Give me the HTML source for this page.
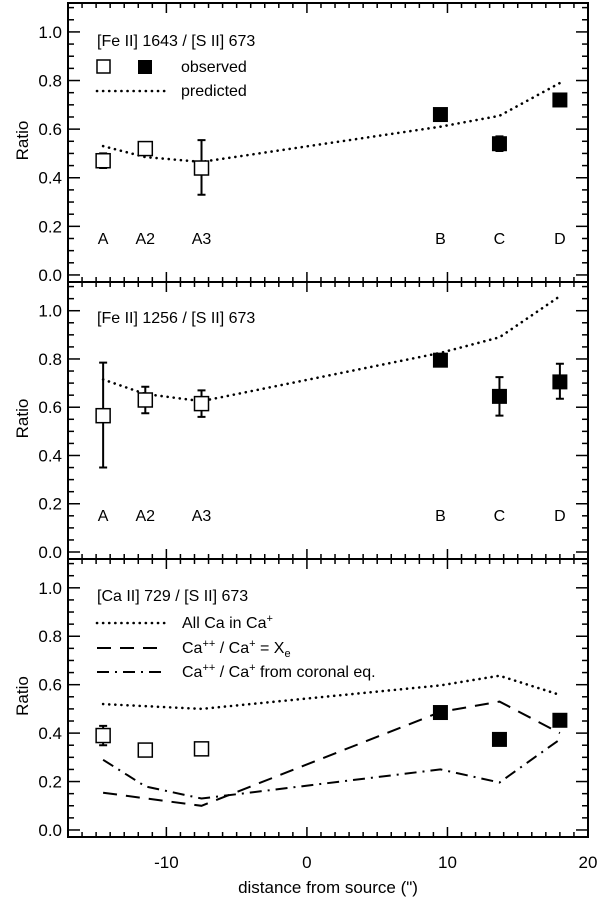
<!DOCTYPE html>
<html><head><meta charset="utf-8"><style>
html,body{margin:0;padding:0;background:#fff;}
svg{display:block;font-family:"Liberation Sans",Arial,sans-serif;}
</style></head><body>
<svg id="chart" width="600" height="903" viewBox="0 0 600 903" xmlns="http://www.w3.org/2000/svg"></svg>
<script>
// ---- data ----
const regions = ["A","A2","A3","B","C","D"];
const positions = [-14.5,-11.5,-7.5,9.5,13.7,18.0];
const observedFlag = [false,false,false,true,true,true];
const feii1643 = [0.47,0.52,0.44,0.66,0.54,0.72];
const feii1643Lo = [0.44,0.52,0.33,0.66,0.51,0.70];
const feii1643Hi = [0.50,0.52,0.555,0.66,0.57,0.745];
const feii1643Pred = [0.53,0.485,0.465,0.61,0.655,0.79];
const feii1256 = [0.565,0.63,0.615,0.795,0.645,0.705];
const feii1256Lo = [0.35,0.575,0.56,0.795,0.565,0.635];
const feii1256Hi = [0.785,0.685,0.67,0.795,0.725,0.78];
const feii1256Pred = [0.715,0.655,0.625,0.825,0.89,1.06];
const caii729 = [0.39,0.33,0.335,0.485,0.374,0.453];
const caii729Lo = [0.35,0.33,0.335,0.485,0.374,0.453];
const caii729Hi = [0.43,0.33,0.335,0.485,0.374,0.453];
const caAllX = [-14.5,-7.5,9.5,13.7,18.0];
const caAll = [0.52,0.50,0.597,0.637,0.558];
const caXeX = [-14.5,-7.5,9.5,13.7,18.0];
const caXe = [0.154,0.10,0.487,0.53,0.40];
const caCorX = [-14.5,-11.5,-7.5,9.5,13.7,18.0];
const caCor = [0.29,0.18,0.13,0.25,0.196,0.374];
const yTicks = [0.0,0.2,0.4,0.6,0.8,1.0];
const yTickLabels = ["0.0","0.2","0.4","0.6","0.8","1.0"];
const xTicks = [-10,0,10,20];
const xTickLabels = ["-10","0","10","20"];

// ---- layout ----
const NS="http://www.w3.org/2000/svg";
const svg=document.getElementById('chart');
const L=68,R=588,XMIN=-17.0,XMAX=20;
const YMIN=-0.029,YMAX=1.119;
const panels=[{top:3,bottom:282},{top:282,bottom:559},{top:559,bottom:837}];
function sx(v){return L+(v-XMIN)/(XMAX-XMIN)*(R-L);}
function mkY(p){return v=>p.bottom-(v-YMIN)/(YMAX-YMIN)*(p.bottom-p.top);}
function el(tag,attrs,parent){const e=document.createElementNS(NS,tag);for(const k in attrs)e.setAttribute(k,attrs[k]);(parent||svg).appendChild(e);return e;}
function txt(s,x,y,size,parent,anchor){const t=el('text',{x:x,y:y,'font-size':size,fill:'#000','text-anchor':anchor||'start'},parent);t.textContent=s;return t;}
const DOT={'stroke-width':2.6,'stroke-dasharray':'0.1 6','stroke-linecap':'round'};

function drawAxes(p,idx,showX){
  const g=el('g',{});
  
  
  const y=mkY(p);
  el('rect',{x:L,y:p.top,width:R-L,height:p.bottom-p.top,fill:'none',stroke:'#000','stroke-width':2},g);
  for(let v=-17;v<=20;v++){
    const X=sx(v);const major=(v%10===0);const len=major?10:5;
    el('line',{x1:X,y1:p.bottom,x2:X,y2:p.bottom-len,stroke:'#000','stroke-width':1.5},g);
    el('line',{x1:X,y1:p.top,x2:X,y2:p.top+len,stroke:'#000','stroke-width':1.5},g);
  }
  for(let i=0;i<=22;i++){
    const v=i*0.05;const Y=y(v);const major=(i%4===0);const len=major?12:6;
    el('line',{x1:L,y1:Y,x2:L+len,y2:Y,stroke:'#000','stroke-width':1.5},g);
    el('line',{x1:R,y1:Y,x2:R-len,y2:Y,stroke:'#000','stroke-width':1.5},g);
  }
  yTicks.forEach((v,i)=>{const t=txt(yTickLabels[i],62,y(v)+6,17,g,'end');});
  const yl=txt('Ratio',0,0,17,g,'middle');
  yl.setAttribute('transform','translate(28,'+((p.top+p.bottom)/2-2)+') rotate(-90)');
  
  
  if(showX){
    xTicks.forEach((v,i)=>{const t=txt(xTickLabels[i],sx(v),868,17,g,'middle');});
    const xt=txt('distance from source (")',(L+R)/2,893,17,g,'middle');
    
    
  }
  return y;
}
function line(xs,vals,y,dash,name){
  const pts=xs.map((x,i)=>sx(x).toFixed(1)+','+y(vals[i]).toFixed(1)).join(' ');
  const a={points:pts,fill:'none',stroke:'#000'};
  if(dash==='dot'){Object.assign(a,DOT);}
  else{a['stroke-width']=2;a['stroke-dasharray']=dash==='dash'?'14 9':'12 6 2 6';}
  const pl=el('polyline',a);
  
  
}
function markers(vals,lo,hi,y,name){
  vals.forEach((v,i)=>{
    const X=sx(positions[i]);
    if(hi[i]-lo[i]>0.001){
      const e=el('path',{d:`M${X},${y(lo[i])}V${y(hi[i])}M${X-4},${y(lo[i])}H${X+4}M${X-4},${y(hi[i])}H${X+4}`,stroke:'#000','stroke-width':2,fill:'none'});
      
      
    }
    const s=14;
    const r=el('rect',{x:X-s/2,y:y(v)-s/2,width:s,height:s,fill:observedFlag[i]?'#000':'#fff',stroke:'#000','stroke-width':observedFlag[i]?1:1.5});
    
    
  });
}
function regionLabels(y,ybase){
  regions.forEach((r,i)=>{const t=txt(r,sx(positions[i]),ybase,16,null,'middle');});
}

// Panel 1
let y1=drawAxes(panels[0],0,false);
line(positions,feii1643Pred,y1,'dot','predicted-1643-line');
markers(feii1643,feii1643Lo,feii1643Hi,y1,'obs-1643');
regionLabels(y1,244);
let t=txt('[Fe II] 1643 / [S II] 673',97,46,16);

let lg=el('rect',{x:97,y:60,width:13,height:13,fill:'#fff',stroke:'#000','stroke-width':1.5});

lg=el('rect',{x:138,y:60,width:14,height:14,fill:'#000'});

t=txt('observed',181,72,16);
lg=el('line',Object.assign({x1:97,y1:91,x2:165,y2:91,stroke:'#000'},DOT));

t=txt('predicted',181,96,16);

// Panel 2
let y2=drawAxes(panels[1],1,false);
line(positions,feii1256Pred,y2,'dot','predicted-1256-line');
markers(feii1256,feii1256Lo,feii1256Hi,y2,'obs-1256');
regionLabels(y2,521);
t=txt('[Fe II] 1256 / [S II] 673',97,323,16);


// Panel 3
let y3=drawAxes(panels[2],2,true);
line(caAllX,caAll,y3,'dot','all-ca-line');
line(caXeX,caXe,y3,'dash','xe-line');
line(caCorX,caCor,y3,'dashdot','coronal-line');
markers(caii729,caii729Lo,caii729Hi,y3,'obs-729');
t=txt('[Ca II] 729 / [S II] 673',97,601,16);

lg=el('line',Object.assign({x1:97,y1:623,x2:165,y2:623,stroke:'#000'},DOT));

lg=el('line',{x1:97,y1:648,x2:165,y2:648,stroke:'#000','stroke-width':2,'stroke-dasharray':'14 9'});

lg=el('line',{x1:97,y1:672,x2:165,y2:672,stroke:'#000','stroke-width':2,'stroke-dasharray':'12 6 2 6'});

</script>
<div style="position:absolute;left:0;top:0;width:600px;height:903px;pointer-events:none;">
<svg width="600" height="903" style="position:absolute;left:0;top:0" font-family="Liberation Sans, Arial, sans-serif" font-size="16">
<text x="182" y="628">All Ca in Ca<tspan dy="-6" font-size="11">+</tspan></text>
<text x="182" y="653">Ca<tspan dy="-6" font-size="11">++</tspan><tspan dy="6"> / Ca</tspan><tspan dy="-6" font-size="11">+</tspan><tspan dy="6"> = X</tspan><tspan dy="4" font-size="11">e</tspan></text>
<text x="182" y="677">Ca<tspan dy="-6" font-size="11">++</tspan><tspan dy="6"> / Ca</tspan><tspan dy="-6" font-size="11">+</tspan><tspan dy="6"> from coronal eq.</tspan></text>
</svg></div>
</body></html>
